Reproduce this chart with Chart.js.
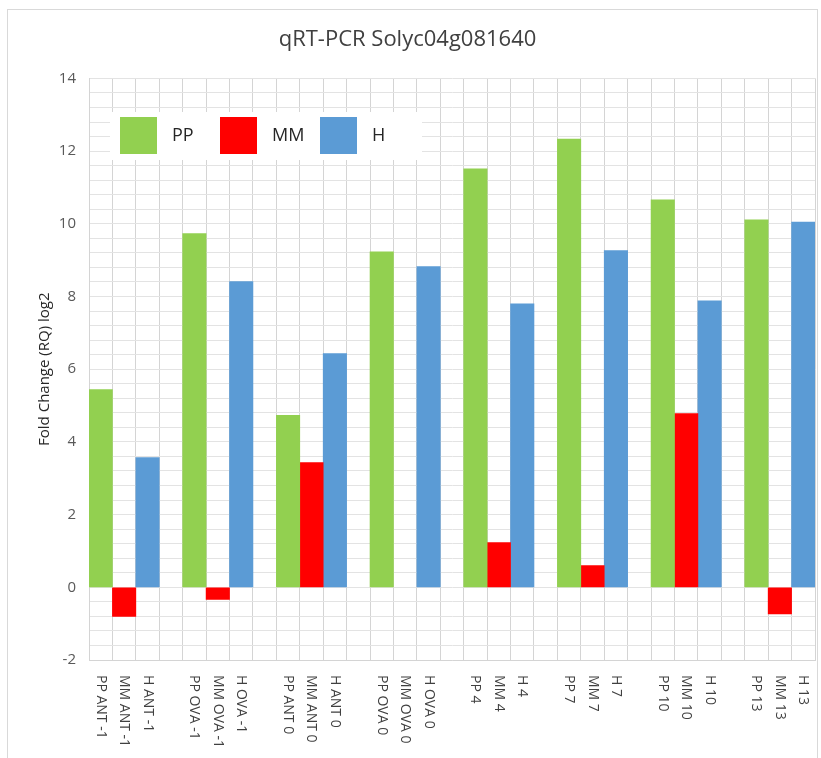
<!DOCTYPE html>
<html>
<head>
<meta charset="utf-8">
<script src="https://cdn.jsdelivr.net/npm/chart.js@4/dist/chart.umd.min.js"></script>
<style>
  html, body { margin: 0; padding: 0; background: #fff; }
  #wrap { position: relative; width: 821px; height: 758px; }
</style>
</head>
<body>
<div id="wrap"><canvas id="myChart" width="821" height="758"></canvas></div>
<script>
"use strict";

// サンプル名と系列
const sampleNames = ["ANT -1", "OVA -1", "ANT 0", "OVA 0", "4", "7", "10", "13"];
const seriesNames = ["PP", "MM", "H"];
const seriesColors = ["#92D050", "#FF0000", "#5B9BD5"];

// Fold change (RQ) log2  (MM OVA 0 は値なし)
const ppValues = [5.44, 9.73, 4.73, 9.23, 11.51, 12.33, 10.66, 10.11];
const mmValues = [-0.80, -0.33, 3.43, null, 1.23, 0.60, 4.78, -0.73];
const hValues  = [3.57, 8.41, 6.43, 8.82, 7.80, 9.26, 7.88, 10.05];

const yMin = -2, yMax = 14, yMajor = 2, yMinor = 0.4;

// ラベルと系列ごとのデータ (グループ間に空のカテゴリを入れる)
const allValues = [ppValues, mmValues, hValues];
const labels = [];
const dataSets = seriesNames.map(() => []);
sampleNames.forEach((name, g) => {
    seriesNames.forEach((s, si) => {
        labels.push(s + " " + name);
        dataSets.forEach((arr, k) => arr.push(k === si ? allValues[si][g] : null));
    });
    if (g < sampleNames.length - 1) {
        labels.push("");
        dataSets.forEach(arr => arr.push(null));
    }
});

// 外枠・凡例・縦書きラベル
const decorations = {
    id: "decorations",
    beforeDraw(chart) {
        const c = chart.ctx;
        c.save();
        c.fillStyle = "#fff";
        c.fillRect(0, 0, chart.width, chart.height);
        c.strokeStyle = "#d9d9d9";
        c.lineWidth = 1;
        c.strokeRect(7.5, 9.5, 810, 760);
        c.restore();
    },
    afterDraw(chart) {
        const c = chart.ctx;
        const x = chart.scales.x;
        c.save();
        // x ラベル (上から下へ)
        c.fillStyle = "#404040";
        c.font = "14px 'Open Sans'";
        c.textAlign = "left";
        c.textBaseline = "middle";
        labels.forEach((lab, i) => {
            if (!lab) return;
            c.save();
            c.translate(x.getPixelForValue(i), 675);
            c.rotate(Math.PI / 2);
            c.fillText(lab, 0, 0);
            c.restore();
        });
        // 凡例
        c.fillStyle = "#fff";
        c.fillRect(110, 112, 312, 48);
        c.font = "18px 'Open Sans'";
        chart.data.datasets.forEach((ds, i) => {
            const bx = 120 + i * 100;
            c.fillStyle = ds.backgroundColor;
            c.fillRect(bx, 117, 37, 37);
            c.fillStyle = "#262626";
            c.fillText(ds.label, bx + 52, 136);
        });
        c.restore();
    }
};

const ctx = document.getElementById("myChart").getContext("2d");
const myChart = new Chart(ctx, {
    type: "bar",
    data: {
        labels: labels,
        datasets: seriesNames.map((s, i) => ({
            label: s,
            data: dataSets[i],
            backgroundColor: seriesColors[i],
            borderWidth: 0,
            barPercentage: 1,
            categoryPercentage: 1
        }))
    },
    options: {
        responsive: false,
        animation: false,
        layout: { padding: { left: 0, right: 6, top: 0, bottom: 98 } },
        plugins: {
            legend: { display: false },
            tooltip: { enabled: false },
            title: {
                display: true,
                text: "qRT-PCR Solyc04g081640",
                color: "#404040",
                font: { family: "'Open Sans'", size: 22, weight: "normal" },
                padding: { top: 27, bottom: 25 }
            }
        },
        scales: {
            x: {
                stacked: true,
                ticks: { display: false },
                grid: { color: "#d4d4d4", drawTicks: false, offset: true },
                border: { color: "#d4d4d4" }
            },
            y: {
                stacked: true,
                min: yMin,
                max: yMax,
                afterFit(scale) { scale.width = 89; },
                ticks: {
                    stepSize: yMinor,
                    autoSkip: false,
                    padding: 13,
                    color: "#595959",
                    font: { family: "'Open Sans'", size: 15 },
                    callback(v) {
                        const r = Math.round(v / yMajor);
                        return Math.abs(v / yMajor - r) < 1e-6 ? String(r * yMajor) : "";
                    }
                },
                grid: { color: "#e3e3e3", drawTicks: false },
                border: { color: "#d4d4d4" },
                title: {
                    display: true,
                    text: "Fold Change (RQ) log2",
                    color: "#262626",
                    font: { family: "'Open Sans'", size: 15 },
                    padding: { top: 36, bottom: 0 }
                }
            }
        }
    },
    plugins: [decorations]
});
</script>
</body>
</html>
